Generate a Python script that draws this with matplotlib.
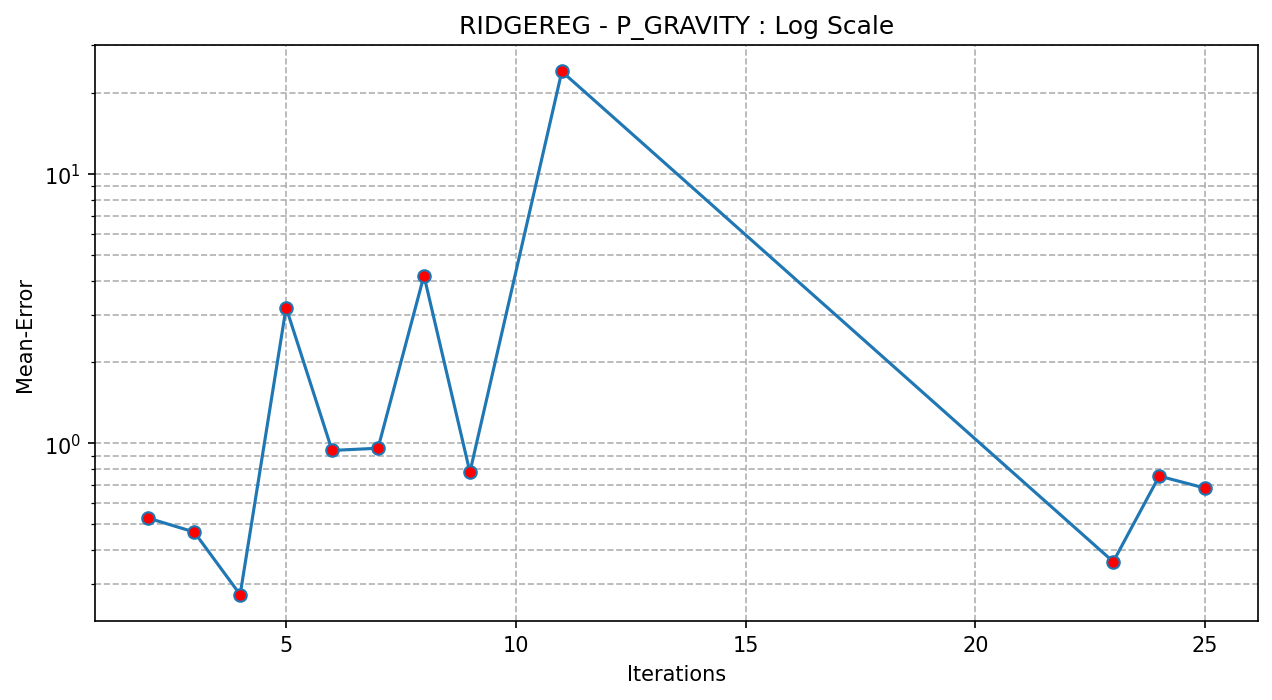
import matplotlib
matplotlib.use("Agg")
import matplotlib.pyplot as plt

iterations = [2, 3, 4, 5, 6, 7, 8, 9, 11, 23, 24, 25]
mean_error = [0.527, 0.468, 0.274, 3.19, 0.94, 0.958, 4.19, 0.781, 24.0, 0.363, 0.755, 0.681]

fig, ax = plt.subplots(figsize=(8.48, 4.673), dpi=150)
ax.plot(iterations, mean_error, color="tab:blue", marker="o",
        markerfacecolor="red", markeredgecolor="tab:blue", markersize=6)
ax.set_yscale("log")
ax.set_title("RIDGEREG - P_GRAVITY : Log Scale")
ax.set_xlabel("Iterations")
ax.set_ylabel("Mean-Error")
ax.grid(True, which="both", linestyle="--", color="#b0b0b0", linewidth=0.8)
fig.subplots_adjust(left=0.075, right=0.989, top=0.934, bottom=0.113)
fig.savefig("out.png")
